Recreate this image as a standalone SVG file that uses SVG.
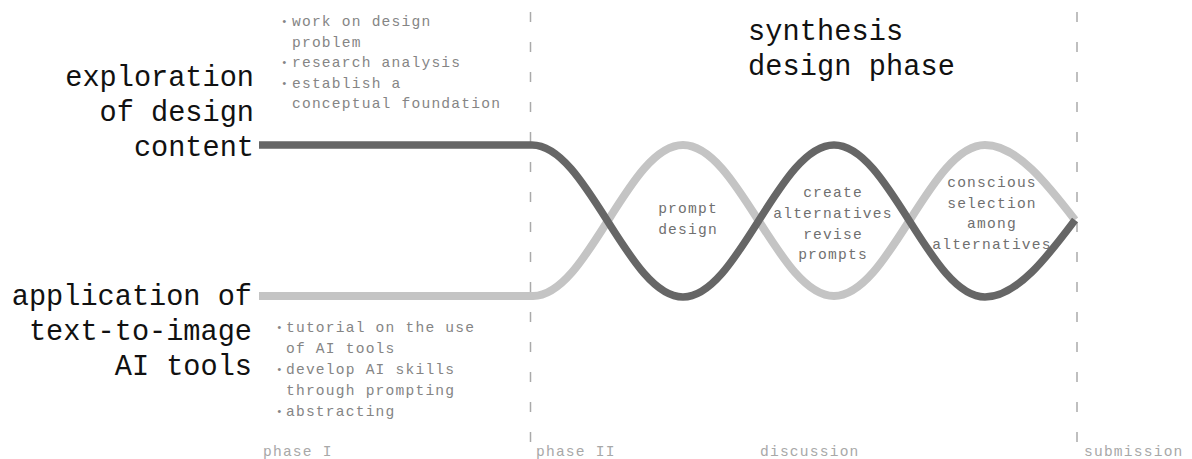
<svg xmlns="http://www.w3.org/2000/svg" width="1192" height="459" viewBox="0 0 1192 459">
<style>
.big{font-family:"Liberation Mono","DejaVu Sans Mono",monospace;font-size:28.6px;fill:#111;}
.title{font-family:"Liberation Mono","DejaVu Sans Mono",monospace;font-size:28.6px;letter-spacing:0.1px;fill:#111;}
.small{font-family:"Liberation Mono","DejaVu Sans Mono",monospace;font-size:14.6px;letter-spacing:1.2px;fill:#858585;}
.wave{font-family:"Liberation Mono","DejaVu Sans Mono",monospace;font-size:14.6px;letter-spacing:1.2px;fill:#707070;text-anchor:middle;}
.foot{font-family:"Liberation Mono","DejaVu Sans Mono",monospace;font-size:14.6px;letter-spacing:1.2px;fill:#a8a8a8;}
.dash{stroke:#aaa;stroke-width:1.5;stroke-dasharray:10 20;stroke-dashoffset:-4;fill:none;}
.dark{stroke:#666;stroke-width:7.5;fill:none;}
.light{stroke:#c4c4c4;stroke-width:8;fill:none;}
.bul{font-family:"Liberation Mono","DejaVu Sans Mono",monospace;font-size:11px;fill:#858585;}
</style>
<rect width="1192" height="459" fill="#fff"/>
<g id="dividers">
<line class="dash" x1="530.5" y1="8" x2="530.5" y2="459"/>
<line class="dash" x1="1077" y1="8" x2="1077" y2="459"/>
</g>
<g id="connectors">
<path id="ai-line" class="light" d="M259 296 H533 C588 296 628 145 683 145 C738 145 779 296 834 296 C889 296 930 145 985 145 C1017 145 1048 185 1075 220"/>
<path id="design-line" class="dark" d="M259 145 H532 C587 145 628 297 683 297 C738 297 779 145 834 145 C889 145 930 297 985 297 C1017 297 1048 256 1075 220"/>
</g>
<g id="node-exploration">
<text class="big" text-anchor="end" x="254" y="86">exploration</text>
<text class="big" text-anchor="end" x="254" y="121">of design</text>
<text class="big" text-anchor="end" x="254" y="156">content</text>
</g>
<g id="node-application">
<text class="big" text-anchor="end" x="252" y="305">application of</text>
<text class="big" text-anchor="end" x="252" y="340">text-to-image</text>
<text class="big" text-anchor="end" x="252" y="375">AI tools</text>
</g>
<g id="node-phase1-tasks">
<text class="bul" x="281" y="25">•</text>
<text class="small" x="292" y="26">work on design</text>
<text class="small" x="292" y="46.5">problem</text>
<text class="bul" x="281" y="66">•</text>
<text class="small" x="292" y="67">research analysis</text>
<text class="bul" x="281" y="86.5">•</text>
<text class="small" x="292" y="87.5">establish a</text>
<text class="small" x="292" y="108">conceptual foundation</text>
</g>
<g id="node-phase1-ai">
<text class="bul" x="276" y="331">•</text>
<text class="small" x="286" y="332">tutorial on the use</text>
<text class="small" x="286" y="353">of AI tools</text>
<text class="bul" x="276" y="373">•</text>
<text class="small" x="286" y="374">develop AI skills</text>
<text class="small" x="286" y="395">through prompting</text>
<text class="bul" x="276" y="415">•</text>
<text class="small" x="286" y="416">abstracting</text>
</g>
<g id="node-synthesis">
<text class="title" x="748" y="40">synthesis</text>
<text class="title" x="748" y="75">design phase</text>
</g>
<g id="node-prompt-design">
<text class="wave" x="688" y="213">prompt</text>
<text class="wave" x="688" y="234">design</text>
</g>
<g id="node-create">
<text class="wave" x="833" y="197">create</text>
<text class="wave" x="833" y="218">alternatives</text>
<text class="wave" x="833" y="238.5">revise</text>
<text class="wave" x="833" y="259">prompts</text>
</g>
<g id="node-selection">
<text class="wave" x="992" y="187">conscious</text>
<text class="wave" x="992" y="207.5">selection</text>
<text class="wave" x="992" y="228">among</text>
<text class="wave" x="992" y="248.5">alternatives</text>
</g>
<g id="node-footer">
<text class="foot" x="263" y="456">phase I</text>
<text class="foot" x="536" y="456">phase II</text>
<text class="foot" x="760" y="456">discussion</text>
<text class="foot" x="1084" y="456">submission</text>
</g>
</svg>
